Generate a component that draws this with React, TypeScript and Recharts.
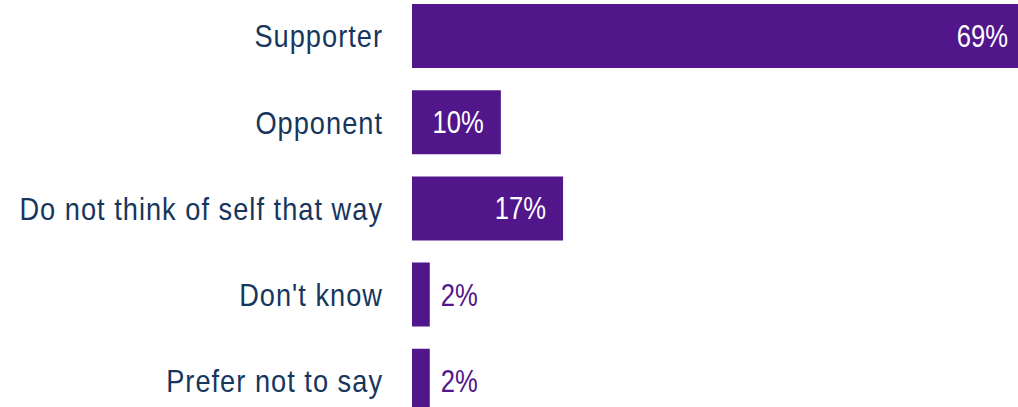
import { BarChart, Bar, XAxis, YAxis, LabelList } from "recharts";

const categories = [
  "Supporter",
  "Opponent",
  "Do not think of self that way",
  "Don't know",
  "Prefer not to say",
];
const shares = [69, 10, 17, 2, 2];

const data = categories.map((name, i) => ({ name, value: shares[i] }));

const barColor = "#50168A";
const textColor = "#17365D";
const fontFamily = '"Liberation Sans", Arial, sans-serif';

// condensed text: the narrow face isn't installed, so squash Liberation Sans
function NarrowText({ x, y, anchor, fill, squeeze = 0.85, spacing = 1.2, children }: any) {
  return (
    <g transform={`translate(${x},${y}) scale(${squeeze},1)`}>
      <text
        x={0}
        y={0}
        fill={fill}
        textAnchor={anchor}
        dominantBaseline="central"
        fontSize={32}
        fontFamily={fontFamily}
        letterSpacing={spacing}
      >
        {children}
      </text>
    </g>
  );
}

function CategoryTick(props: any) {
  const { x, y, payload } = props;
  return (
    <NarrowText x={x} y={y} anchor="end" fill={textColor}>
      {payload.value}
    </NarrowText>
  );
}

function ValueLabel(props: any) {
  const { x, y, width, height, value } = props;
  const cy = y + height / 2;
  if (value >= 5) {
    return (
      <NarrowText
        x={x + width - 17}
        y={cy}
        anchor="end"
        fill="#ffffff"
        squeeze={0.8}
        spacing={0}
      >
        {value}%
      </NarrowText>
    );
  }
  return (
    <NarrowText
      x={x + width + 11}
      y={cy}
      anchor="start"
      fill={barColor}
      squeeze={0.8}
      spacing={0}
    >
      {value}%
    </NarrowText>
  );
}

export default function App() {
  return (
    <div
      style={{
        position: "absolute",
        top: 0,
        left: 0,
        width: 1018,
        height: 407,
        overflow: "hidden",
        background: "#fff",
      }}
    >
      <div style={{ position: "absolute", top: -7, left: 0 }}>
        <BarChart
          width={1034}
          height={431}
          data={data}
          layout="vertical"
          margin={{ top: 0, right: 0, bottom: 0, left: 0 }}
          barCategoryGap={11}
        >
          <XAxis type="number" domain={[0, 70]} hide />
          <YAxis
            type="category"
            dataKey="name"
            width={412}
            axisLine={false}
            tickLine={false}
            tickSize={0}
            tickMargin={29}
            tick={<CategoryTick />}
          />
          <Bar dataKey="value" fill={barColor} isAnimationActive={false}>
            <LabelList dataKey="value" content={ValueLabel} />
          </Bar>
        </BarChart>
      </div>
    </div>
  );
}
